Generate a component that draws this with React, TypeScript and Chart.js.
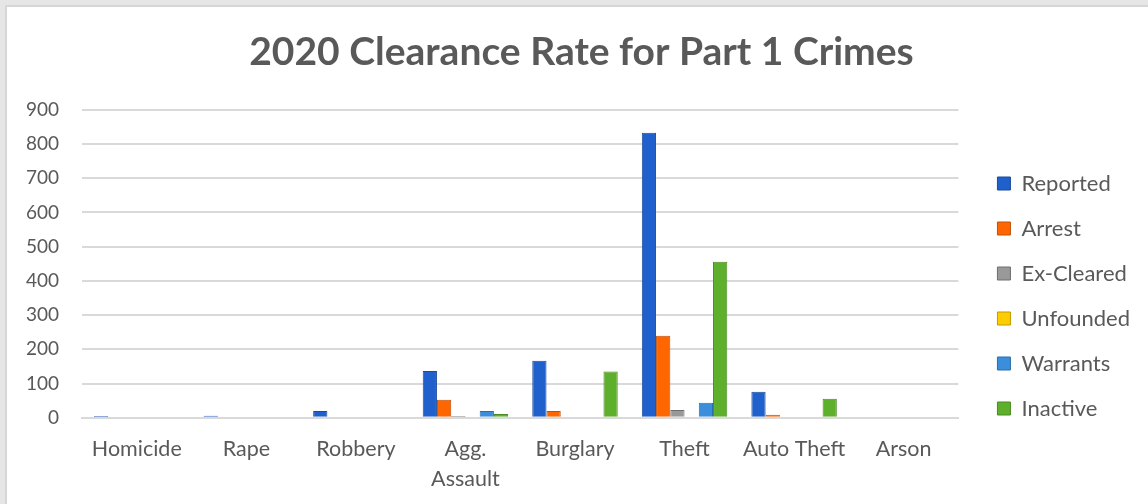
import React, { useEffect, useRef } from "react";
import { Chart, registerables } from "chart.js";

Chart.register(...registerables);

const chartTitle = "2020 Clearance Rate for Part 1 Crimes";
const categories: (string | string[])[] = [
  "Homicide",
  "Rape",
  "Robbery",
  ["Agg.", "Assault"],
  "Burglary",
  "Theft",
  "Auto Theft",
  "Arson",
];
const seriesNames = ["Reported", "Arrest", "Ex-Cleared", "Unfounded", "Warrants", "Inactive"];
const reported = [5, 6, 20, 137, 167, 833, 76, 0];
const arrest = [0, 0, 0, 53, 20, 240, 9, 0];
const exCleared = [0, 0, 0, 5, 0, 23, 0, 0];
const unfounded = [0, 0, 0, 0, 0, 0, 0, 0];
const warrants = [0, 0, 0, 20, 0, 44, 0, 0];
const inactive = [0, 0, 0, 11, 135, 456, 56, 0];
const yMin = 0;
const yMax = 900;
const yStep = 100;

const fills = ["#2060CC", "#FF6600", "#999999", "#FFCC00", "#3A8EDC", "#5EAF2C"];
const borders = ["#1A4A9A", "#C0500A", "#6E6E6E", "#C09A00", "#2D6EA8", "#4A8A22"];

const FONT = "Lato, 'Open Sans', sans-serif";

export default function App() {
  const ref = useRef<HTMLCanvasElement | null>(null);

  useEffect(() => {
    if (!ref.current) return;
    const values = [reported, arrest, exCleared, unfounded, warrants, inactive];
    const chart = new Chart(ref.current, {
      type: "bar",
      data: {
        labels: categories as any,
        datasets: seriesNames.map((name, i) => ({
          label: name,
          data: values[i],
          backgroundColor: fills[i],
          borderColor: borders[i],
          borderWidth: 1,
          categoryPercentage: 0.78,
          barPercentage: 1,
        })),
      },
      options: {
        animation: false,
        responsive: false,
        maintainAspectRatio: false,
        layout: { padding: { left: 16, right: 8, top: 0, bottom: -6 } },
        plugins: {
          title: {
            display: true,
            text: chartTitle,
            color: "#595959",
            font: { family: FONT, size: 39, weight: "bold" },
            padding: { top: 22, bottom: 34 },
          },
          legend: {
            position: "right",
            align: "center",
            title: {
              display: true,
              text: " ",
              font: { family: FONT, size: 20 },
              padding: { top: 0, bottom: 51 },
            },
            labels: {
              color: "#595959",
              font: { family: FONT, size: 22 },
              boxWidth: 13,
              boxHeight: 13,
              padding: 23,
            },
          },
          tooltip: { enabled: false },
        },
        scales: {
          x: {
            grid: { display: false, drawTicks: false },
            border: { display: true, color: "#D9D9D9", width: 2 },
            ticks: {
              color: "#595959",
              font: { family: FONT, size: 21.5, lineHeight: 1.4 },
              padding: 16,
              maxRotation: 0,
            },
            afterFit: (scale: any) => {
              scale.paddingLeft = 0;
              scale.paddingRight = 0;
            },
          },
          y: {
            min: yMin,
            max: yMax,
            grid: { color: "#D9D9D9", lineWidth: 2, drawTicks: false },
            border: { display: false },
            ticks: {
              stepSize: yStep,
              color: "#595959",
              font: { family: FONT, size: 19 },
              padding: 23,
            },
            afterFit: (scale: any) => {
              scale.width = 59;
            },
          },
          spacer: {
            type: "linear",
            position: "right",
            display: true,
            grid: { display: false, drawTicks: false },
            border: { display: false },
            ticks: { display: false },
            afterFit: (scale: any) => {
              scale.width = 16;
            },
          },
        },
      },
    });
    return () => chart.destroy();
  }, []);

  return (
    <div
      style={{
        position: "fixed",
        left: 0,
        top: 0,
        width: 1148,
        height: 504,
        background: "#E6E6E6",
        overflow: "hidden",
      }}
    >
      <div
        style={{
          position: "absolute",
          left: 5,
          top: 5,
          width: 1143,
          height: 499,
          borderLeft: "2px solid #D6D6D6",
          borderTop: "2px solid #D6D6D6",
          background: "#FFFFFF",
        }}
      >
        <canvas ref={ref} width={1141} height={497} style={{ display: "block" }} />
      </div>
    </div>
  );
}
